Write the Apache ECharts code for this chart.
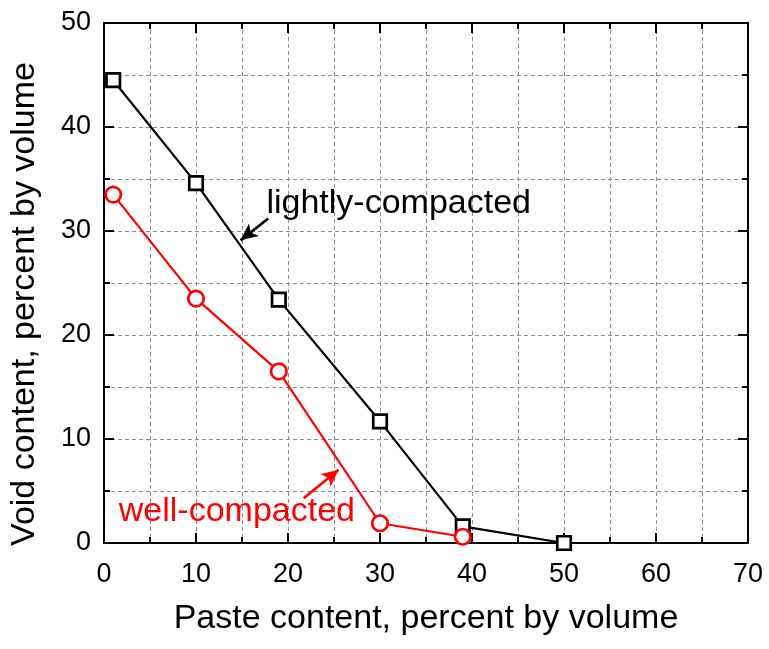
<!DOCTYPE html>
<html>
<head>
<meta charset="utf-8">
<script src="https://cdn.jsdelivr.net/npm/echarts@6/dist/echarts.min.js"></script>
<style>
  html, body { margin: 0; padding: 0; background: #fff; }
  #chart { width: 769px; height: 649px; }
</style>
</head>
<body>
<div id="chart"></div>
<script>
// Paste content (x) and void content (y), percent by volume
const lightPaste = [1, 10, 19, 30, 39, 50];
const lightVoid = [44.5, 34.6, 23.4, 11.7, 1.6, 0];
const wellPaste = [1, 10, 19, 30, 39];
const wellVoid = [33.5, 23.5, 16.5, 1.9, 0.6];

// Annotation labels and their pointer arrows (data coordinates)
const lightLabel = { text: 'lightly-compacted', at: [17.6, 32.6] };
const lightArrow = [[17.85, 31.2], [14.85, 29.1]];
const wellLabel = { text: 'well-compacted', at: [1.55, 3.0] };
const wellArrow = [[21.7, 4.3], [25.5, 7.05]];

const FONT = 'Liberation Sans, Arial, sans-serif';
const gridLine = { show: true, lineStyle: { color: '#8c8c8c', width: 1, type: [4, 3] } };

function pairs(xs, ys) { return xs.map((x, i) => [x, ys[i]]); }

function labelPoint(lbl, color) {
  return {
    symbol: 'circle', symbolSize: 1,
    itemStyle: { color: 'rgba(0,0,0,0)' },
    data: [{
      coord: lbl.at,
      label: {
        show: true, formatter: lbl.text, position: 'right', distance: 0,
        color: color, fontSize: 34, fontFamily: FONT
      }
    }]
  };
}

function arrowLine(seg, color) {
  return {
    silent: true, symbol: ['none', 'arrow'], symbolSize: [12, 17],
    lineStyle: { color: color, width: 2.6, type: 'solid' },
    label: { show: false },
    emphasis: { disabled: true },
    data: [[{ coord: seg[0] }, { coord: seg[1] }]]
  };
}

const chart = echarts.init(document.getElementById('chart'), null, { renderer: 'canvas' });

const xBase = {
  type: 'value', min: 0, max: 70, interval: 10,
  axisLine: { show: true, onZero: false, lineStyle: { color: '#000', width: 2 } },
  axisTick: { show: true, inside: true, length: 10, lineStyle: { color: '#000', width: 2 } },
  minorTick: { show: true, splitNumber: 2, length: 6, lineStyle: { color: '#000', width: 2 } }
};
const yBase = {
  type: 'value', min: 0, max: 50, interval: 10,
  axisLine: { show: true, onZero: false, lineStyle: { color: '#000', width: 2 } },
  axisTick: { show: true, inside: true, length: 10, lineStyle: { color: '#000', width: 2 } },
  minorTick: { show: true, splitNumber: 2, length: 6, lineStyle: { color: '#000', width: 2 } }
};

chart.setOption({
  animation: false,
  backgroundColor: '#fff',
  grid: { left: 103, right: 21, top: 23, bottom: 106, containLabel: false },
  xAxis: [
    Object.assign({}, xBase, {
      position: 'bottom',
      name: 'Paste content, percent by volume',
      nameLocation: 'middle', nameGap: 59,
      nameTextStyle: { color: '#000', fontSize: 34, fontFamily: FONT },
      axisLabel: { color: '#000', fontSize: 27, fontFamily: FONT, margin: 18 },
      splitLine: gridLine,
      minorSplitLine: gridLine
    }),
    Object.assign({}, xBase, {
      position: 'top',
      axisLabel: { show: false },
      splitLine: { show: false }
    })
  ],
  yAxis: [
    Object.assign({}, yBase, {
      position: 'left',
      name: 'Void content, percent by volume',
      nameLocation: 'middle', nameGap: 62, nameRotate: 90,
      nameTextStyle: { color: '#000', fontSize: 34, fontFamily: FONT, padding: [0, 42, 0, 0] },
      axisLabel: { color: '#000', fontSize: 27, fontFamily: FONT, margin: 13 },
      splitLine: gridLine,
      minorSplitLine: gridLine
    }),
    Object.assign({}, yBase, {
      position: 'right',
      axisLabel: { show: false },
      splitLine: { show: false }
    })
  ],
  series: [
    {
      name: 'lightly-compacted',
      type: 'line',
      data: pairs(lightPaste, lightVoid),
      symbol: 'rect', symbolSize: 13.5,
      lineStyle: { color: '#000', width: 2.2 },
      itemStyle: { color: '#fff', borderColor: '#000', borderWidth: 2.7 },
      markPoint: labelPoint(lightLabel, '#000'),
      markLine: arrowLine(lightArrow, '#000'),
      z: 3
    },
    {
      name: 'well-compacted',
      type: 'line',
      data: pairs(wellPaste, wellVoid),
      symbol: 'circle', symbolSize: 15.5,
      lineStyle: { color: '#ff0000', width: 2.2 },
      itemStyle: { color: '#fff', borderColor: '#ff0000', borderWidth: 2.7 },
      markPoint: labelPoint(wellLabel, '#ff0000'),
      markLine: arrowLine(wellArrow, '#ff0000'),
      z: 4
    }
  ]
});
</script>
</body>
</html>
